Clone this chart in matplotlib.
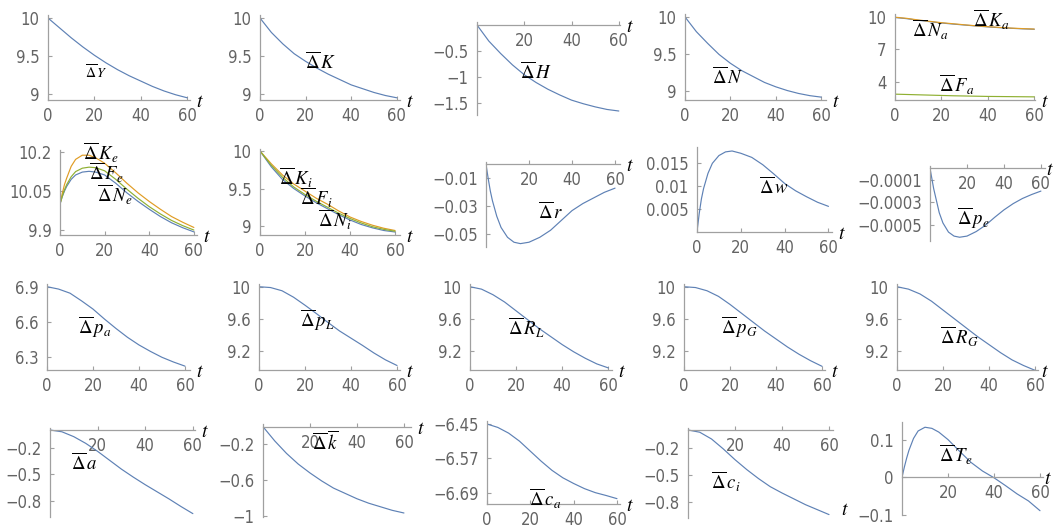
import matplotlib
matplotlib.use("Agg")
import matplotlib.pyplot as plt
from matplotlib import font_manager

W, H = 1053, 531

# ---- data (t in years, values per panel) ----
T = [0, 5, 10, 15, 20, 25, 30, 35, 40, 45, 50, 55, 60]
TF = [0, 1, 2, 3, 5, 7, 10, 13, 16, 20, 25, 30, 35, 40, 45, 50, 55, 60]

dY = [10.00, 9.87, 9.74, 9.62, 9.51, 9.41, 9.32, 9.24, 9.17, 9.10, 9.04, 8.99, 8.95]
dK = [10.00, 9.81, 9.66, 9.53, 9.43, 9.34, 9.26, 9.19, 9.12, 9.07, 9.02, 8.98, 8.95]
dH = [0, -0.31, -0.55, -0.77, -0.96, -1.11, -1.24, -1.35, -1.45, -1.52, -1.58, -1.63, -1.66]
dN = [10.00, 9.80, 9.64, 9.49, 9.37, 9.27, 9.19, 9.11, 9.05, 9.00, 8.96, 8.93, 8.91]
dKa = [9.95, 9.85, 9.70, 9.57, 9.45, 9.35, 9.25, 9.16, 9.08, 9.01, 8.95, 8.90, 8.86]
dNa = [9.93, 9.82, 9.67, 9.54, 9.42, 9.32, 9.23, 9.14, 9.06, 8.99, 8.93, 8.88, 8.84]
dFa = [2.85, 2.82, 2.79, 2.76, 2.73, 2.70, 2.68, 2.66, 2.64, 2.63, 2.62, 2.61, 2.60]

dKe = [10.00, 10.04, 10.075, 10.10, 10.145, 10.172, 10.188, 10.188, 10.178, 10.157,
       10.12, 10.08, 10.043, 10.01, 9.98, 9.952, 9.93, 9.91]
dFe = [10.00, 10.03, 10.055, 10.075, 10.105, 10.125, 10.138, 10.142, 10.14, 10.128,
       10.095, 10.057, 10.022, 9.99, 9.962, 9.937, 9.917, 9.90]
dNe = [10.00, 10.028, 10.05, 10.068, 10.095, 10.112, 10.123, 10.126, 10.123, 10.112,
       10.08, 10.043, 10.01, 9.98, 9.952, 9.928, 9.909, 9.893]
dKi = [10.0, 9.83, 9.68, 9.56, 9.465, 9.37, 9.29, 9.20, 9.12, 9.06, 9.01, 8.97, 8.94]
dFi = [10.0, 9.81, 9.65, 9.52, 9.42, 9.33, 9.25, 9.17, 9.10, 9.04, 8.99, 8.955, 8.93]
dNi = [10.0, 9.79, 9.62, 9.50, 9.40, 9.31, 9.23, 9.15, 9.08, 9.02, 8.975, 8.94, 8.92]
dr = [0, -0.010, -0.019, -0.026, -0.037, -0.045, -0.052, -0.0555, -0.0565, -0.0555,
      -0.052, -0.047, -0.040, -0.033, -0.028, -0.024, -0.020, -0.017]
dw = [0, 0.0040, 0.0072, 0.0095, 0.0128, 0.0150, 0.0167, 0.0175, 0.0177, 0.0172,
      0.0163, 0.0147, 0.0127, 0.0106, 0.0090, 0.0077, 0.0065, 0.0056]
dpe = [0, -0.00009, -0.00018, -0.00025, -0.00039, -0.00048, -0.00056, -0.000595,
       -0.000605, -0.000595, -0.000555, -0.000500, -0.000430, -0.000365, -0.000310,
       -0.000265, -0.000230, -0.000200]

dpa = [6.90, 6.88, 6.845, 6.78, 6.71, 6.625, 6.545, 6.47, 6.405, 6.35, 6.30, 6.26, 6.225]
dpL = [10.0, 9.99, 9.95, 9.87, 9.77, 9.665, 9.555, 9.45, 9.36, 9.27, 9.175, 9.09, 9.02]
dRL = [10.0, 9.97, 9.90, 9.81, 9.70, 9.59, 9.48, 9.38, 9.28, 9.19, 9.11, 9.04, 8.99]
dpG = [10.0, 9.99, 9.95, 9.88, 9.78, 9.67, 9.56, 9.45, 9.35, 9.25, 9.16, 9.08, 9.01]
dRG = [10.0, 9.97, 9.91, 9.82, 9.71, 9.60, 9.49, 9.38, 9.28, 9.18, 9.09, 9.02, 8.96]

da = [0, -0.02, -0.075, -0.15, -0.24, -0.34, -0.44, -0.53, -0.615, -0.695, -0.775, -0.86, -0.94]
dk = [0, -0.16, -0.30, -0.42, -0.52, -0.61, -0.69, -0.75, -0.81, -0.86, -0.90, -0.94, -0.97]
dca = [-6.450, -6.462, -6.482, -6.510, -6.545, -6.580, -6.612, -6.638, -6.658,
       -6.676, -6.690, -6.700, -6.711]
dci = [0, -0.025, -0.10, -0.21, -0.33, -0.44, -0.54, -0.63, -0.70, -0.765, -0.83, -0.885, -0.94]
dTe = [0, 0.027, 0.051, 0.072, 0.104, 0.124, 0.134, 0.131, 0.121, 0.101, 0.070, 0.040,
       0.017, -0.001, -0.022, -0.044, -0.063, -0.089]

BLUE, ORANGE, GREEN = "#5E81B5", "#E09C24", "#8FB032"
AXIS_C, LABEL_C = "#a0a0a0", "#646464"

# a narrow sans for the tick numbers if one is installed
narrow = [f for f in font_manager.fontManager.ttflist
          if f.style == "normal" and ("Narrow" in f.name or "Condensed" in f.name
                                      or f.stretch in ("condensed", "semi-condensed", 87, 75))]
plt.rcParams["mathtext.fontset"] = "stix"
if narrow:
    plt.rcParams["font.family"] = [narrow[0].name, "DejaVu Sans"]
    plt.rcParams["font.stretch"] = narrow[0].stretch
else:
    plt.rcParams["font.family"] = ["Liberation Sans", "DejaVu Sans"]

fig = plt.figure(figsize=(W / 100, H / 100), dpi=100)


def panel(box, xmax, ylim, yticks, ylabels, axis_y, xticks, curves, t_off=(4, -1)):
    x0, x1, y0, y1 = box
    ax = fig.add_axes([x0 / W, 1 - y1 / H, (x1 - x0) / W, (y1 - y0) / H])
    for t, v, c in curves:
        ax.plot(t, v, color=c, lw=0.85, solid_capstyle="round")
    ax.set_xlim(0, xmax)
    ax.set_ylim(*ylim)
    ax.patch.set_visible(False)
    for s in ("top", "right"):
        ax.spines[s].set_visible(False)
    ax.spines["left"].set_position(("data", 0))
    ax.spines["bottom"].set_position(("data", axis_y))
    for s in ("left", "bottom"):
        ax.spines[s].set_color(AXIS_C)
        ax.spines[s].set_linewidth(0.9)
    ax.set_xticks(xticks)
    ax.set_xticklabels([str(x) for x in xticks])
    ax.set_yticks(yticks)
    ax.set_yticklabels(ylabels)
    ax.tick_params(direction="in", length=3, width=0.8, color=AXIS_C,
                   labelcolor=LABEL_C, labelsize=12)
    ax.tick_params(axis="x", pad=5)
    ax.tick_params(axis="y", pad=6)
    ax.annotate("$t$", xy=(xmax, axis_y), xytext=t_off, textcoords="offset points",
                ha="left", va="center", fontsize=14, annotation_clip=False)
    return ax


def label(x, y, s, size=13.5):
    fig.text(x / W, 1 - y / H, s, ha="center", va="center", fontsize=size)


X0 = [0, 20, 40, 60]
X1 = [20, 40, 60]

# row 1
panel((48, 190, 15, 100), 61.2, (8.921, 10.04), [9, 9.5, 10], ["9", "9.5", "10"], 8.921, X0,
      [(T, dY, BLUE)])
label(96, 72, r"$\overline{\Delta}\,Y$", 10)
panel((260, 400, 15, 100), 61.4, (8.921, 10.04), [9, 9.5, 10], ["9", "9.5", "10"], 8.921, X0,
      [(T, dK, BLUE)])
label(321, 62, r"$\overline{\Delta}\,K$")
panel((477, 620, 22, 115), 60.5, (-1.737, 0.058), [-1.5, -1, -0.5], ["\u22121.5", "\u22121", "\u22120.5"],
      0, X1, [(T, dH, BLUE)])
label(536, 72, r"$\overline{\Delta}\,H$")
panel((685, 826, 14, 100), 62.1, (8.871, 10.04), [9, 9.5, 10], ["9", "9.5", "10"], 8.871, X0,
      [(T, dN, BLUE)])
label(728, 77, r"$\overline{\Delta}\,N$")
panel((895, 1035, 14, 100), 60.3, (2.31, 10.25), [4, 7, 10], ["4", "7", "10"], 2.31, X0,
      [(T, dNa, BLUE), (T, dKa, ORANGE), (T, dFa, GREEN)])
label(930, 30, r"$\overline{\Delta}\,N_a$")
label(991, 20, r"$\overline{\Delta}\,K_a$")
label(957, 85, r"$\overline{\Delta}\,F_a$")

# row 2
panel((60, 197, 150, 235), 61.4, (9.881, 10.208), [9.9, 10.05, 10.2], ["9.9", "10.05", "10.2"],
      9.881, X0, [(TF, dNe, BLUE), (TF, dKe, ORANGE), (TF, dFe, GREEN)])
label(101, 153, r"$\overline{\Delta}\,K_e$")
label(106, 173, r"$\overline{\Delta}\,F_e$")
label(115, 195, r"$\overline{\Delta}\,N_e$")
panel((260, 400, 149, 235), 62.2, (8.88, 10.027), [9, 9.5, 10], ["9", "9.5", "10"], 8.88, X0,
      [(T, dNi, BLUE), (T, dKi, ORANGE), (T, dFi, GREEN)])
label(296, 178, r"$\overline{\Delta}\,K_i$")
label(316, 198, r"$\overline{\Delta}\,F_i$")
label(335, 220, r"$\overline{\Delta}\,N_i$")
panel((486, 620, 162, 247), 62.3, (-0.0589, 0.0016), [-0.05, -0.03, -0.01],
      ["\u22120.05", "\u22120.03", "\u22120.01"], 0, X1, [(TF, dr, BLUE)])
label(551, 212, r"$\overline{\Delta}\,r$")
panel((697, 832, 147, 232), 61.6, (0, 0.01857), [0.005, 0.01, 0.015], ["0.005", "0.01", "0.015"],
      0, X0, [(TF, dw, BLUE)])
label(774, 187, r"$\overline{\Delta}\,w$")
panel((930, 1045, 166, 241), 62.2, (-0.000638, 0.00002), [-0.0005, -0.0003, -0.0001],
      ["\u22120.0005", "\u22120.0003", "\u22120.0001"], 0, X1, [(TF, dpe, BLUE)], t_off=(1, -1))
label(973, 218, r"$\overline{\Delta}\,p_e$")

# row 3
R3Y = (8.964, 10.034)
panel((47, 190, 284, 370), 62.2, (6.192, 6.923), [6.3, 6.6, 6.9], ["6.3", "6.6", "6.9"], 6.192, X0,
      [(T, dpa, BLUE)])
label(95, 327, r"$\overline{\Delta}\,p_a$")
panel((259, 400, 284, 370), 61.3, R3Y, [9.2, 9.6, 10], ["9.2", "9.6", "10"], R3Y[0], X0,
      [(T, dpL, BLUE)])
label(317, 320, r"$\overline{\Delta}\,p_L$")
panel((470, 612, 284, 370), 61.6, R3Y, [9.2, 9.6, 10], ["9.2", "9.6", "10"], R3Y[0], X0,
      [(T, dRL, BLUE)])
label(526, 328, r"$\overline{\Delta}\,R_L$")
panel((684, 825, 284, 370), 61.3, R3Y, [9.2, 9.6, 10], ["9.2", "9.6", "10"], R3Y[0], X0,
      [(T, dpG, BLUE)])
label(739, 327, r"$\overline{\Delta}\,p_G$")
panel((897, 1038, 284, 370), 61.3, R3Y, [9.2, 9.6, 10], ["9.2", "9.6", "10"], R3Y[0], X0,
      [(T, dRG, BLUE)], t_off=(2, -1))
label(959, 337, r"$\overline{\Delta}\,R_G$")

# row 4
panel((50, 195, 428, 517), 60.9, (-0.978, 0.0225), [-0.8, -0.5, -0.2],
      ["\u22120.8", "\u22120.5", "\u22120.2"], 0, X1, [(T, da, BLUE)])
label(84, 463, r"$\overline{\Delta}\,a$")
panel((263, 411, 424, 517), 63.0, (-1.015, 0.0303), [-1, -0.6, -0.2],
      ["\u22121", "\u22120.6", "\u22120.2"], 0, X1, [(T, dk, BLUE)])
label(325, 442, r"$\overline{\Delta}\,\overline{k}$")
panel((487, 620, 421, 504), 61.4, (-6.7297, -6.4395), [-6.69, -6.57, -6.45],
      ["\u22126.69", "\u22126.57", "\u22126.45"], -6.7297, X0, [(T, dca, BLUE)])
label(545, 499, r"$\overline{\Delta}\,c_a$")
panel((688, 833, 428, 518), 61.7, (-0.978, 0.022), [-0.8, -0.5, -0.2],
      ["\u22120.8", "\u22120.5", "\u22120.2"], 0, X1, [(T, dci, BLUE)], t_off=(6, -57))
label(726, 482, r"$\overline{\Delta}\,c_i$")
panel((902, 1043, 422, 515), 61.3, (-0.1005, 0.148), [-0.1, 0, 0.1], ["\u22120.1", "0", "0.1"],
      0, X1, [(TF, dTe, BLUE)], t_off=(1, -1))
label(956, 455, r"$\overline{\Delta}\,T_e$")

fig.savefig("out.png", dpi=100, facecolor="white")
